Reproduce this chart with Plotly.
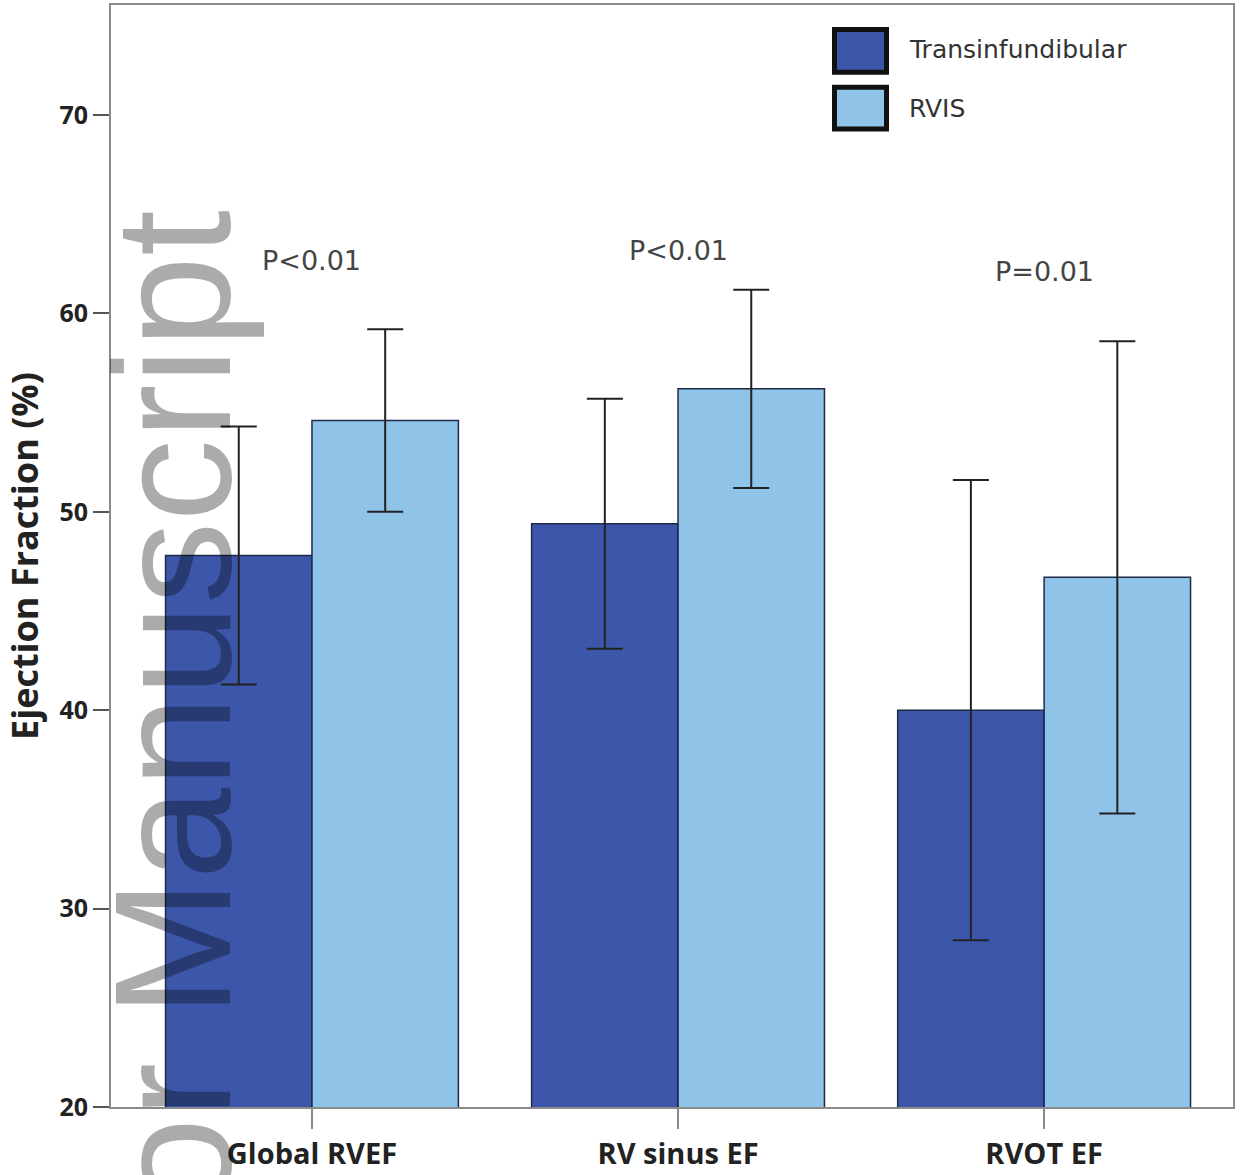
import plotly.graph_objects as go

categories = ["Global RVEF", "RV sinus EF", "RVOT EF"]
trans_mean = [47.8, 49.4, 40.0]
trans_err = [6.5, 6.3, 11.6]
rvis_mean = [54.6, 56.2, 46.7]
rvis_err = [4.6, 5.0, 11.9]
p_labels = ["P<0.01", "P<0.01", "P=0.01"]
p_y = [62.65, 63.15, 62.1]
y_ticks = [20, 30, 40, 50, 60, 70]

W, H = 1244, 1175
L, R, T, B = 111, 11, 3, 65
PW, PH = W - L - R, H - T - B

def px(x):
    return (x - L) / PW

def py(y):
    return (H - B - y) / PH

DARK = "#3c57aa"
LIGHT = "#8fc3e7"
EDGE = "#1d2a48"
FONT = "Open Sans"
FONT2 = "DejaVu Sans"

fig = go.Figure()
fig.add_trace(go.Bar(
    x=categories, y=trans_mean, name="Transinfundibular",
    marker=dict(color=DARK, line=dict(color=EDGE, width=1.5)),
    error_y=dict(type="data", array=trans_err, visible=True, color="#222222", thickness=2, width=18),
))
fig.add_trace(go.Bar(
    x=categories, y=rvis_mean, name="RVIS",
    marker=dict(color=LIGHT, line=dict(color=EDGE, width=1.5)),
    error_y=dict(type="data", array=rvis_err, visible=True, color="#222222", thickness=2, width=18),
))

annotations = []
for c, t, yv in zip(categories, p_labels, p_y):
    annotations.append(dict(x=c, y=yv, xref="x", yref="y", text=t, showarrow=False,
                            font=dict(family=FONT2, size=27, color="#444444")))

# legend (drawn manually to match the large swatches)
shapes = []
legend_items = [("Transinfundibular", DARK, 27.5, 70.5, 48), ("RVIS", LIGHT, 85.5, 127.5, 107)]
for name, col, y0, y1, yc in legend_items:
    shapes.append(dict(type="rect", xref="paper", yref="paper",
                       x0=px(834.5), x1=px(886.5), y0=py(y1), y1=py(y0),
                       fillcolor=col, line=dict(color="#111111", width=5)))
    annotations.append(dict(x=px(907), y=py(yc), xref="paper", yref="paper", text=name,
                            xanchor="left", yanchor="middle", showarrow=False,
                            font=dict(family=FONT2, size=25, color="#333333")))

# watermark
annotations.append(dict(x=px(173), y=py(882), xref="paper", yref="paper",
                        text="Author Manuscript", textangle=-90, showarrow=False,
                        xanchor="center", yanchor="middle",
                        font=dict(family="Liberation Sans", size=165, color="rgba(0,0,0,0.33)")))

fig.update_layout(
    width=W, height=H,
    margin=dict(l=L, r=R, t=T, b=B),
    paper_bgcolor="white", plot_bgcolor="white",
    barmode="group", bargap=0.2, bargroupgap=0,
    showlegend=False,
    annotations=annotations, shapes=shapes,
    font=dict(family=FONT),
)
fig.update_xaxes(
    type="category", range=[-0.549, 2.516],
    showline=True, linecolor="#8a8a8a", linewidth=2, mirror=True,
    ticks="outside", ticklen=20, tickcolor="#8a8a8a", tickwidth=1.5,
    tickfont=dict(family=FONT, size=29, color="#222222", weight="bold"),
    showgrid=False,
)
fig.update_yaxes(
    range=[20, 75.55], tickvals=y_ticks,
    showline=True, linecolor="#8a8a8a", linewidth=2, mirror=True,
    ticks="outside", ticklen=16, tickcolor="#555555", tickwidth=1.5,
    tickfont=dict(family=FONT, size=25, color="#222222", weight="bold"),
    showgrid=False, zeroline=False,
    title=dict(text="Ejection Fraction (%)", standoff=12,
               font=dict(family=FONT, size=36, color="#222222", weight="bold")),
)

fig.write_html("out.html", config={"displayModeBar": False},
               post_script="document.body.style.margin='0';document.body.style.overflow='hidden';")
